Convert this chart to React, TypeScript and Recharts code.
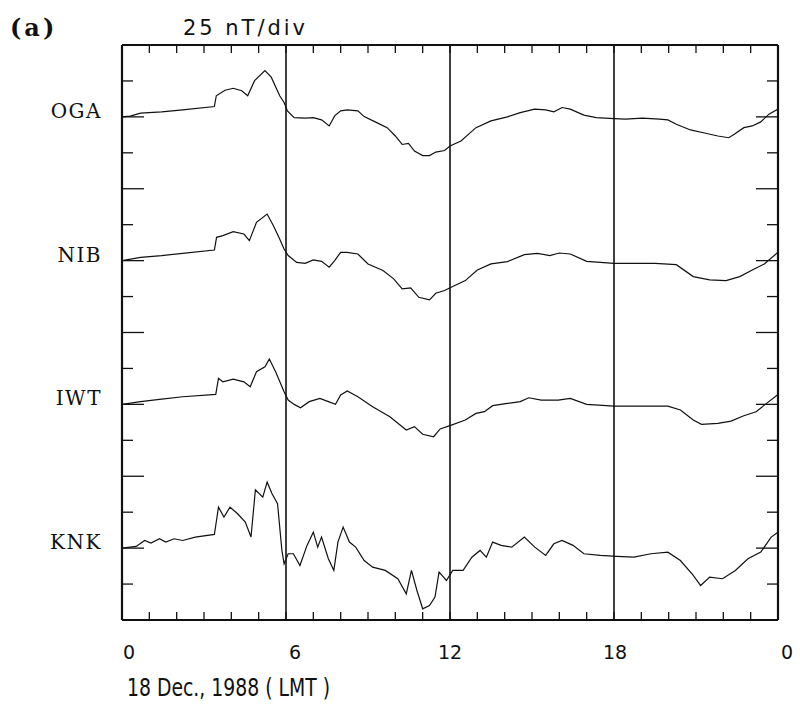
import React from 'react';
import { LineChart, Line, XAxis, YAxis, ReferenceLine } from 'recharts';

// hours of day (LMT)
const HOUR_TICKS: number[] = [0, 1, 2, 3, 4, 5, 6, 7, 8, 9, 10, 11, 12, 13, 14, 15, 16, 17, 18, 19, 20, 21, 22, 23, 24];
const HOUR_LABELS: Record<number, string> = { 0: '0', 6: '6', 12: '12', 18: '18', 24: '0' };
const HOUR_LABEL_DX: Record<number, number> = { 0: 7, 6: 9, 12: 0, 18: 1, 24: 9 };
const DIVIDERS: number[] = [6, 12, 18];

// 25 nT per division
const NT_TICKS: number[] = [0, 25, 50, 75, 100, 125, 150, 175, 200, 225, 250, 275, 300, 325, 350, 375, 400];

const STATIONS: string[] = ['OGA', 'NIB', 'IWT', 'KNK'];
const STATION_BASE: number[] = [350, 250, 150, 50];

// [hour, deviation nT]
const OGA: [number, number][] = [
  [0, 0], [0.3, 0.5], [0.68, 2.6], [1.45, 3.5], [2.22, 4.9], [3.38, 7.2], [3.45, 14.7], [3.77, 18.5], [4.07, 19.9],
  [4.38, 18.2], [4.6, 14.7], [4.85, 25.2], [5.23, 32.2], [5.46, 27.6], [5.77, 14.7], [5.93, 10], [6.05, 4.2],
  [6.3, -0.5], [6.7, -0.9], [7.0, -0.5], [7.3, -2.1], [7.58, -6.3], [7.78, 0.7], [8.0, 4.2], [8.24, 4.9],
  [8.63, 4.2], [8.86, 0.2], [9.32, -4], [9.7, -7.5], [10.0, -13.3], [10.25, -19.2], [10.48, -18.5], [10.7, -23.8],
  [11.0, -26.9], [11.25, -26.9], [11.48, -24.5], [11.8, -23.4], [12.0, -20.3], [12.4, -16.8], [12.95, -7.5],
  [13.5, -2.8], [14.1, 0], [14.57, 3], [15.1, 5.4], [15.5, 4.9], [15.8, 3.5], [16.1, 6.5], [16.4, 5.4],
  [16.9, 1.2], [17.35, -0.5], [18.0, -1.2], [18.43, -1.6], [19.04, -0.9], [19.66, -1.6], [19.97, -2.1],
  [20.28, -5.1], [20.8, -9.1], [21.35, -11.4], [21.8, -13.3], [22.2, -14.5], [22.4, -12.1], [22.75, -7.5],
  [23.06, -6.3], [23.37, -3.5], [23.67, 1.9], [24, 5.4],
];

const NIB: [number, number][] = [
  [0, 0], [0.68, 2.3], [1.45, 3.5], [2.22, 5.1], [3.38, 7.4], [3.46, 16.2], [3.69, 17.4], [4.07, 20.1], [4.46, 18.5],
  [4.66, 13.9], [4.92, 26.6], [5.31, 32.4], [5.54, 24.3], [5.74, 16.2], [5.93, 8.1], [6.08, 3.5], [6.39, -1.2],
  [6.7, -1.9], [7.0, 0.5], [7.3, -0.5], [7.58, -4.6], [7.78, 0], [8.0, 5.8], [8.24, 5.8], [8.63, 4.6], [9.0, -2.3],
  [9.55, -6.9], [9.94, -12.7], [10.25, -19.7], [10.56, -19], [10.86, -25.5], [11.25, -27.3], [11.48, -22.7],
  [11.8, -20.8], [12.1, -18], [12.56, -13.9], [13.0, -6.5], [13.5, -2.3], [14.1, -0.7], [14.72, 4.2], [15.2, 5.1],
  [15.65, 3.5], [16.0, 5.3], [16.4, 4.6], [17.0, -0.5], [18.0, -1.9], [18.73, -1.9], [19.5, -1.9], [20.28, -2.8],
  [20.9, -11.1], [21.5, -13.4], [22.1, -13.9], [22.6, -11.1], [23.06, -6.5], [23.5, -2.3], [24, 5.8],
];

const IWT: [number, number][] = [
  [0, 0], [0.68, 1.9], [1.45, 3.7], [2.22, 5.3], [3.43, 6.9], [3.53, 18.1], [3.69, 15.7], [4.07, 17.6], [4.46, 15.7],
  [4.69, 12.3], [4.92, 22.7], [5.23, 26.2], [5.39, 31.5], [5.62, 22.7], [5.93, 8.8], [6.08, 3], [6.3, 0],
  [6.53, -2.3], [6.85, 1.9], [7.24, 4.2], [7.55, 1.9], [7.81, 0], [8.0, 6.5], [8.24, 9.3], [8.63, 5.3],
  [9.17, -1.6], [9.8, -8.6], [10.4, -17.8], [10.7, -15.5], [11.0, -20.8], [11.4, -22.5], [11.64, -17.1],
  [12.0, -14.8], [12.56, -10.9], [12.95, -6.3], [13.26, -5.1], [13.56, -0.9], [14.1, 0.7], [14.57, 1.9],
  [14.88, 4.6], [15.34, 3], [15.96, 3], [16.4, 4.2], [17.0, 0], [18.0, -1.2], [18.89, -1.2], [19.97, -1.2],
  [20.43, -3.9], [20.9, -10.9], [21.2, -13.9], [21.8, -13.2], [22.28, -11.6], [22.75, -7.9], [23.2, -5.1],
  [23.5, -0.5], [24, 6.9],
];

const KNK: [number, number][] = [
  [0, 0], [0.52, 1.2], [0.83, 5.3], [1.06, 3.5], [1.37, 6.5], [1.6, 4.2], [1.91, 6.5], [2.22, 5.3], [2.68, 7.7],
  [3.38, 9.5], [3.53, 28.5], [3.73, 21.6], [3.95, 28.5], [4.23, 23.9], [4.51, 18.1], [4.72, 7.7], [4.88, 40.6],
  [5.15, 35.5], [5.31, 45.9], [5.49, 37.8], [5.69, 30.9], [5.85, -1.6], [5.93, -10.9], [6.08, -3.9], [6.27, -3.9],
  [6.51, -12.1], [6.77, 1.9], [7.0, 11.1], [7.16, 0.7], [7.3, 7.7], [7.55, -7.4], [7.75, -15.5], [7.9, 4.2],
  [8.09, 14.6], [8.32, 4.2], [8.55, 0.7], [8.86, -8.6], [9.17, -13.2], [9.63, -15.5], [10.09, -21.3],
  [10.4, -31.8], [10.59, -15.5], [10.79, -29.5], [11.0, -42.2], [11.25, -39.9], [11.45, -34.1], [11.6, -16.7],
  [11.87, -22.5], [12.1, -15.5], [12.48, -15.5], [12.8, -6.3], [13.1, -1.6], [13.33, -6.3], [13.56, 4.2],
  [13.87, 1.9], [14.26, 0.7], [14.72, 7.7], [15.1, 0.7], [15.5, -5.1], [15.8, 3], [16.1, 5.3], [16.5, 1.9],
  [16.9, -3.9], [17.5, -5.1], [18.1, -5.8], [18.73, -6.3], [19.35, -3.9], [19.97, -2.8], [20.43, -8.6],
  [20.9, -19], [21.17, -26], [21.5, -20.2], [21.97, -21.3], [22.44, -15.5], [22.9, -7.4], [23.37, -2.8],
  [23.75, 7.7], [24, 11.1],
];

const SERIES: [number, number][][] = [OGA, NIB, IWT, KNK];

const tables = SERIES.map((s, i) => s.map(([h, v]) => ({ h, v: v + STATION_BASE[i] })));

const W = 800;
const H = 706;
const M = { top: 44, right: 21, bottom: 85, left: 121 };
const INK = '#111';

const BottomTick = (props: any) => {
  const { x, y, payload } = props;
  const v = payload.value as number;
  const label = HOUR_LABELS[v];
  return (
    <g>
      {v > 0 && v < 24 && <line x1={x} x2={x} y1={y} y2={y - 8} stroke={INK} strokeWidth={1.3} />}
      {label !== undefined && (
        <text x={x + (HOUR_LABEL_DX[v] || 0)} y={y + 39} textAnchor="middle" fontFamily="DejaVu Sans" fontSize={19} fill={INK}>
          {label}
        </text>
      )}
    </g>
  );
};

const TopTick = (props: any) => {
  const { x, y, payload } = props;
  const v = payload.value as number;
  if (v <= 0 || v >= 24) return <g />;
  return <line x1={x} x2={x} y1={y} y2={y + 8} stroke={INK} strokeWidth={1.3} />;
};

const LeftTick = (props: any) => {
  const { x, y, payload } = props;
  const v = payload.value as number;
  const idx = STATION_BASE.indexOf(v);
  const len = v % 50 === 0 ? 22 : 11;
  return (
    <g>
      {v > 0 && v < 400 && <line x1={x} x2={x + len} y1={y} y2={y} stroke={INK} strokeWidth={1.3} />}
      {idx >= 0 && (
        <text x={x - 20} y={y + 1} textAnchor="end" fontFamily="DejaVu Serif" fontSize={20} letterSpacing={1.5} fill={INK}>
          {STATIONS[idx]}
        </text>
      )}
    </g>
  );
};

const RightTick = (props: any) => {
  const { x, y, payload } = props;
  const v = payload.value as number;
  if (v <= 0 || v >= 400) return <g />;
  const len = v % 50 === 0 ? 22 : 11;
  return <line x1={x - len} x2={x} y1={y} y2={y} stroke={INK} strokeWidth={1.3} />;
};

export default function App() {
  return (
    <div style={{ position: 'absolute', left: 0, top: 0, width: W, height: H, background: '#fff' }}>
      <LineChart width={W} height={H} margin={M}>
        <XAxis
          xAxisId="b"
          dataKey="h"
          type="number"
          domain={[0, 24]}
          ticks={HOUR_TICKS}
          interval={0}
          height={1}
          tickSize={0}
          tickMargin={0}
          tickLine={false}
          axisLine={{ stroke: INK, strokeWidth: 2.2 }}
          tick={<BottomTick />}
          allowDataOverflow
        />
        <XAxis
          xAxisId="t"
          orientation="top"
          dataKey="h"
          type="number"
          domain={[0, 24]}
          ticks={HOUR_TICKS}
          interval={0}
          height={1}
          tickSize={0}
          tickMargin={0}
          tickLine={false}
          axisLine={{ stroke: INK, strokeWidth: 2.2 }}
          tick={<TopTick />}
          allowDataOverflow
        />
        <YAxis
          yAxisId="l"
          type="number"
          domain={[0, 400]}
          ticks={NT_TICKS}
          interval={0}
          width={1}
          tickSize={0}
          tickMargin={0}
          tickLine={false}
          axisLine={{ stroke: INK, strokeWidth: 2.2 }}
          tick={<LeftTick />}
          allowDataOverflow
        />
        <YAxis
          yAxisId="r"
          orientation="right"
          type="number"
          domain={[0, 400]}
          ticks={NT_TICKS}
          interval={0}
          width={1}
          tickSize={0}
          tickMargin={0}
          tickLine={false}
          axisLine={{ stroke: INK, strokeWidth: 2.2 }}
          tick={<RightTick />}
          allowDataOverflow
        />
        {DIVIDERS.map((d) => (
          <ReferenceLine key={d} x={d} xAxisId="b" yAxisId="l" stroke={INK} strokeWidth={1.6} />
        ))}
        {tables.map((t, i) => (
          <Line
            key={STATIONS[i]}
            data={t}
            dataKey="v"
            xAxisId="b"
            yAxisId="l"
            type="linear"
            stroke={INK}
            strokeWidth={1.2}
            dot={false}
            isAnimationActive={false}
          />
        ))}
        <Line
          data={tables[0]}
          dataKey="v"
          xAxisId="t"
          yAxisId="r"
          stroke="none"
          strokeWidth={0}
          dot={false}
          legendType="none"
          isAnimationActive={false}
        />
      </LineChart>
      <svg width={W} height={H} style={{ position: 'absolute', left: 0, top: 0, pointerEvents: 'none' }}>
        <text x={10} y={36} fontFamily="DejaVu Serif" fontWeight="bold" fontSize={24} letterSpacing={3} fill={INK}>
          (a)
        </text>
        <text x={183} y={35} fontFamily="DejaVu Sans" fontSize={21} textLength={122} lengthAdjust="spacing" fill={INK}>
          25 nT/div
        </text>
        <text x={127} y={696} fontFamily="DejaVu Sans Condensed, DejaVu Sans" fontSize={25} textLength={203} lengthAdjust="spacingAndGlyphs" fill={INK}>
          18 Dec., 1988 ( LMT )
        </text>
      </svg>
    </div>
  );
}
